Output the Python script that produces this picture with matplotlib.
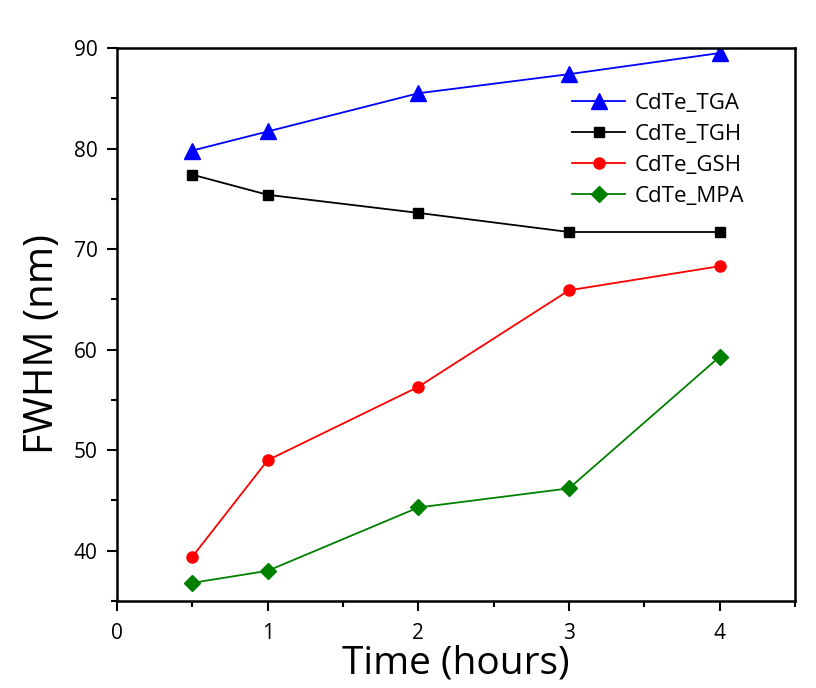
import numpy as np
import matplotlib.pyplot as plt
from matplotlib.ticker import MultipleLocator

plt.rcParams['font.family'] = ['Open Sans', 'DejaVu Sans']

time = [0.5, 1, 2, 3, 4]
tga = [79.8, 81.7, 85.5, 87.4, 89.5]
tgh = [77.4, 75.4, 73.6, 71.7, 71.7]
gsh = [39.4, 49.0, 56.3, 65.9, 68.3]
mpa = [36.8, 38.0, 44.3, 46.2, 59.3]

fig = plt.figure(figsize=(8.16, 6.88), dpi=100)
ax = fig.add_axes([0.1434, 0.1265, 0.8309, 0.8037])

ax.plot(time, tga, color='#0000ff', marker='^', markersize=11, lw=1.3, label='CdTe_TGA')
ax.plot(time, tgh, color='black', marker='s', markersize=7, lw=1.3, label='CdTe_TGH')
ax.plot(time, gsh, color='#ff0000', marker='o', markersize=8, lw=1.3, label='CdTe_GSH')
ax.plot(time, mpa, color='#008000', marker='D', markersize=8, lw=1.3, label='CdTe_MPA')

ax.set_xlim(0, 4.5)
ax.set_ylim(35, 90)
ax.xaxis.set_major_locator(MultipleLocator(1))
ax.xaxis.set_minor_locator(MultipleLocator(0.5))
ax.yaxis.set_major_locator(MultipleLocator(10))
ax.yaxis.set_minor_locator(MultipleLocator(5))
ax.tick_params(which='major', direction='out', length=7, width=1.5, labelsize=15, pad=7)
ax.tick_params(axis='x', which='major', pad=9)
ax.tick_params(which='minor', direction='out', length=4, width=1.5)
for s in ax.spines.values():
    s.set_linewidth(1.8)

ax.set_xlabel('Time (hours)', fontsize=28, labelpad=0)
ax.set_ylabel('FWHM (nm)', fontsize=29)
ax.yaxis.set_label_coords(-0.08, 0.465)

ax.legend(loc='upper left', bbox_to_anchor=(0.671, 0.919), frameon=False, fontsize=16,
          handlelength=2.4, handletextpad=0.4, labelspacing=0.45,
          borderpad=0, borderaxespad=0)

plt.savefig('out.png', format='png')
